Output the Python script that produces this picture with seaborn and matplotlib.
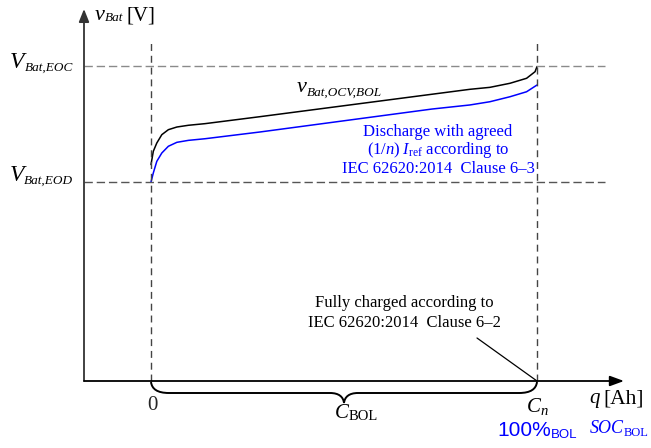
import numpy as np
import pandas as pd
import matplotlib
matplotlib.use("Agg")
import matplotlib.pyplot as plt
import seaborn as sns
from matplotlib.path import Path
from matplotlib.patches import PathPatch

# ---------------- data (normalised: q / Cn , (v - V_EOD)/(V_EOC - V_EOD)) ----------------
q_ocv = [0.000, 0.006, 0.015, 0.028, 0.045, 0.067, 0.097, 0.140, 0.282, 0.593, 0.826, 0.878, 0.930, 0.973, 0.995, 1.000]
v_ocv = [0.150, 0.265, 0.336, 0.408, 0.451, 0.474, 0.489, 0.503, 0.563, 0.698, 0.799, 0.816, 0.851, 0.894, 0.951, 0.995]

q_dis = [0.000, 0.006, 0.015, 0.028, 0.045, 0.067, 0.097, 0.140, 0.282, 0.728, 0.826, 0.878, 0.930, 0.973, 1.000]
v_dis = [0.000, 0.078, 0.178, 0.250, 0.308, 0.342, 0.359, 0.373, 0.431, 0.629, 0.664, 0.692, 0.735, 0.778, 0.836]

q_marks = [0.0, 1.0]          # 0 and Cn
v_marks = [0.0, 1.0]          # V_EOD and V_EOC

blue_lines = ["Discharge with agreed",
              r"$(1/n)\;I_{\mathrm{ref}}$ according to",
              "IEC 62620:2014  Clause 6\u20133"]
black_lines = ["Fully charged according to",
               "IEC 62620:2014  Clause 6\u20132"]

# ---------------- style ----------------
sns.set_theme(style="white")
plt.rcParams["font.family"] = ["Liberation Serif", "DejaVu Serif"]
plt.rcParams["mathtext.fontset"] = "custom"
plt.rcParams["mathtext.rm"] = "Liberation Serif"
plt.rcParams["mathtext.it"] = "Liberation Serif:italic"
plt.rcParams["mathtext.bf"] = "Liberation Serif:bold"
plt.rcParams["mathtext.sf"] = "Liberation Sans"

W, H = 651, 448
fig = plt.figure(figsize=(W / 100, H / 100), dpi=100)
ax = fig.add_axes([0, 0, 1, 1])

# pixel <-> data mapping (layout)
X0, XS = 151.0, 386.0
Y0, YS = 182.0, 116.0
def X(px): return (px - X0) / XS
def Y(py): return (Y0 - py) / YS

ax.set_xlim(X(0), X(W))
ax.set_ylim(Y(H), Y(0))
ax.axis("off")

BLUE = "#0000ff"

# ---------------- curves ----------------
df = pd.concat([
    pd.DataFrame({"q": q_ocv, "v": v_ocv, "s": "ocv"}),
    pd.DataFrame({"q": q_dis, "v": v_dis, "s": "dis"}),
], ignore_index=True)
sns.lineplot(data=df, x="q", y="v", hue="s", palette={"ocv": "black", "dis": BLUE},
             estimator=None, sort=False, lw=1.1, legend=False, ax=ax)

# ---------------- dashed reference lines ----------------
ax.plot([X(84), X(605)], [v_marks[1]] * 2, color="#8a8a8a", lw=1.0, ls=(0, (6, 2.8)))
ax.plot([X(84), X(605)], [v_marks[0]] * 2, color="#555555", lw=1.0, ls=(0, (6, 2.8)))
for qm in q_marks:
    ax.plot([qm, qm], [Y(381), Y(43)], color="#444444", lw=1.0, ls=(0, (5, 3.5)))

# ---------------- axes with arrows ----------------
ax.annotate("", xy=(X(84), Y(9)), xytext=(X(84), Y(381)),
            arrowprops=dict(arrowstyle="-|>,head_length=0.55,head_width=0.22",
                            color="#333333", lw=1.3, mutation_scale=14,
                            shrinkA=0, shrinkB=0))
ax.annotate("", xy=(X(624), Y(381)), xytext=(X(84), Y(381)),
            arrowprops=dict(arrowstyle="-|>,head_length=0.6,head_width=0.22",
                            color="black", lw=1.3, mutation_scale=14,
                            shrinkA=0, shrinkB=0))

# leader line
ax.plot([X(477), q_marks[1]], [Y(338), Y(381)], color="black", lw=0.9)

# ---------------- brace under the x-axis ----------------
a, b = q_marks
mid = (a + b) / 2
yt, yb, ya = Y(382), Y(393), Y(403)
r = 18 / XS      # end curl width
ra = 14 / XS     # apex curl width
verts = [(a, yt), (a + 0.05 * r, Y(389)), (a + 0.35 * r, yb), (a + r, yb),
         (mid - ra, yb),
         (mid - 0.35 * ra, yb), (mid - 0.05 * ra, Y(397)), (mid, ya),
         (mid + 0.05 * ra, Y(397)), (mid + 0.35 * ra, yb), (mid + ra, yb),
         (b - r, yb),
         (b - 0.35 * r, yb), (b - 0.05 * r, Y(389)), (b, yt)]
codes = [Path.MOVETO, Path.CURVE4, Path.CURVE4, Path.CURVE4,
         Path.LINETO,
         Path.CURVE4, Path.CURVE4, Path.CURVE4,
         Path.CURVE4, Path.CURVE4, Path.CURVE4,
         Path.LINETO,
         Path.CURVE4, Path.CURVE4, Path.CURVE4]
ax.add_patch(PathPatch(Path(verts, codes), fc="none", ec="black", lw=1.4))

# ---------------- text helpers ----------------
fig.canvas.draw()
renderer = fig.canvas.get_renderer()

def chain(x, y, parts, ha="left"):
    """parts: list of (text, size, style, family, dy, color, pad)"""
    ws = []
    for s, size, style, fam, dy, col, pad in parts:
        t = fig.text(0, 0, s, fontsize=size, style=style, family=fam)
        ws.append(t.get_window_extent(renderer).width)
        t.remove()
    total = sum(ws) + sum(p[6] for p in parts)
    cur = x if ha == "left" else x - total
    for (s, size, style, fam, dy, col, pad), w in zip(parts, ws):
        cur += pad
        fig.text(cur / W, 1 - (y + dy) / H, s, fontsize=size, style=style,
                 family=fam, color=col, ha="left", va="baseline")
        cur += w

SER = ["Liberation Serif"]
SAN = ["Liberation Sans"]

# y-axis label
chain(95, 20, [("v", 16, "italic", SER, 0, "black", 0),
               ("Bat", 9.5, "italic", SER, 1, "black", 0),
               ("[V]", 15, "normal", SER, 0, "black", 3)])
# V_EOC / V_EOD
chain(73, 68, [("V", 17, "italic", SER, 0, "black", 0),
               ("Bat,EOC", 9.5, "italic", SER, 3, "black", 0)], ha="right")
chain(73, 181, [("V", 17, "italic", SER, 0, "black", 0),
                ("Bat,EOD", 9.5, "italic", SER, 3, "black", 0)], ha="right")
# curve label
chain(297, 92, [("v", 16, "italic", SER, 0, "black", 0),
                ("Bat,OCV,BOL", 9.5, "italic", SER, 4, "black", 0)])

# blue annotation
for line, yb_ in zip(blue_lines, [136, 154, 173]):
    fig.text(438 / W, 1 - yb_ / H, line, fontsize=12, color=BLUE,
             ha="center", va="baseline")
# black annotation
for line, yb_ in zip(black_lines, [307, 327]):
    fig.text(404 / W, 1 - yb_ / H, line, fontsize=12, color="black",
             ha="center", va="baseline")

# x-axis labels
fig.text(152 / W, 1 - 410 / H, "0", fontsize=15, ha="center", va="baseline")
chain(335, 418, [("C", 15, "italic", SER, 0, "black", 0),
                 ("BOL", 10.5, "normal", SER, 2, "black", 0)])
chain(527, 412, [("C", 15, "italic", SER, 0, "black", 0),
                 ("n", 10.5, "italic", SER, 3, "black", 0)])
chain(589, 403, [("q", 15, "italic", SER, 0, "black", 0),
                 ("[Ah]", 15.5, "normal", SER, 0, "black", 4)])
chain(497, 436, [("100%", 15, "normal", SAN, 0, BLUE, 0),
                 ("BOL", 9.5, "normal", SAN, 2, BLUE, 0)])
chain(590, 433, [("SOC", 13, "italic", SER, 0, BLUE, 0),
                 ("BOL", 9, "normal", SER, 3, BLUE, 0)])

fig.savefig("out.png", dpi=100)
